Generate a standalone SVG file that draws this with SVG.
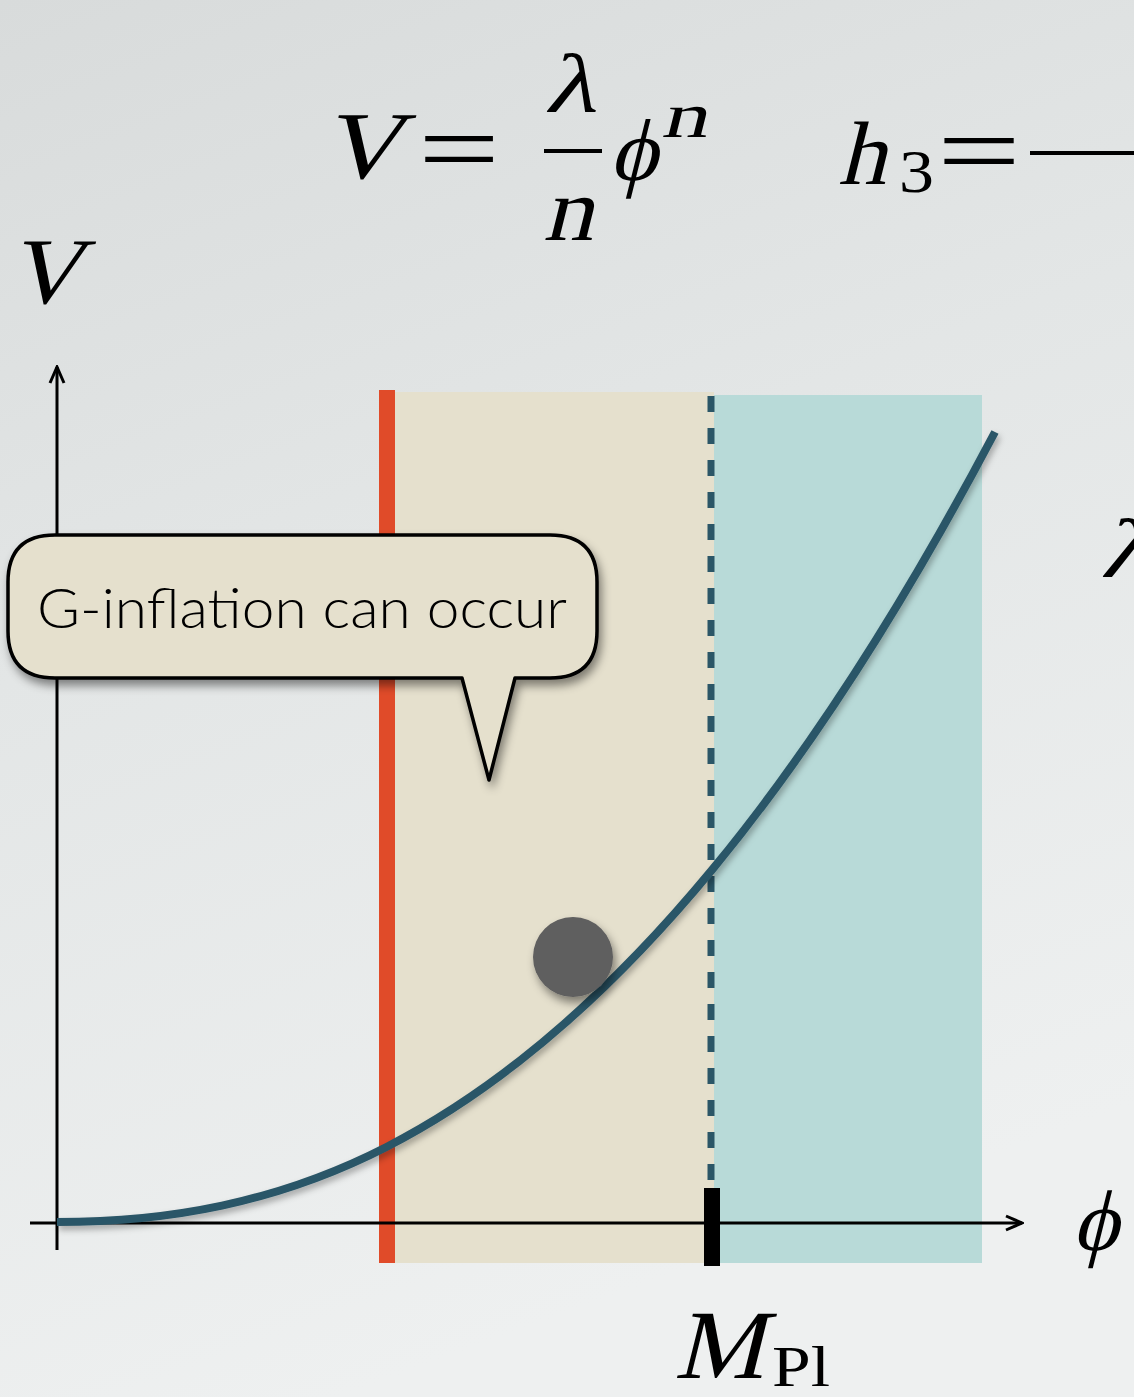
<svg xmlns="http://www.w3.org/2000/svg" width="1134" height="1397" viewBox="0 0 1134 1397">
<defs>
<linearGradient id="bg" x1="0" y1="0" x2="0.3" y2="1">
<stop offset="0" stop-color="#d8dbdb"/>
<stop offset="0.45" stop-color="#e3e6e6"/>
<stop offset="1" stop-color="#eef0f0"/>
</linearGradient>
<filter id="sh" x="-20%" y="-20%" width="140%" height="140%">
<feDropShadow dx="3" dy="6" stdDeviation="5" flood-color="#000" flood-opacity="0.45"/>
</filter>
<filter id="sh2" x="-5%" y="-5%" width="110%" height="110%">
<feDropShadow dx="2" dy="4" stdDeviation="3" flood-color="#000" flood-opacity="0.3"/>
</filter>
<marker id="arr" viewBox="0 0 20 20" refX="18" refY="10" markerWidth="20" markerHeight="20" markerUnits="userSpaceOnUse" orient="auto">
<path d="M2,3 L18,10 L2,17" fill="none" stroke="#000" stroke-width="3"/>
</marker>
</defs>
<style>
.it{font-family:"Liberation Serif",serif;fill:#000}
.rm{font-family:"Liberation Serif",serif;fill:#000}
.lbl{font-family:"Lato","Open Sans",sans-serif;font-weight:300;fill:#000}
.axis{stroke:#000;stroke-width:3;fill:none}
</style>
<rect width="1134" height="1397" fill="url(#bg)"/>

<g id="formula">
<text class="it" transform="translate(322,178) skewX(-14)" font-size="96" textLength="80" lengthAdjust="spacingAndGlyphs">V</text>
<text class="rm" x="418" y="184" font-size="104" textLength="82" lengthAdjust="spacingAndGlyphs">=</text>
<text class="it" transform="translate(544,112) skewX(-14)" font-size="84" textLength="52" lengthAdjust="spacingAndGlyphs">λ</text>
<rect x="544" y="149" width="58" height="4" fill="#000"/>
<text class="it" transform="translate(543,240) skewX(-14)" font-size="90" textLength="50" lengthAdjust="spacingAndGlyphs">n</text>
<text class="it" transform="translate(609,180) skewX(-14)" font-size="88" textLength="48" lengthAdjust="spacingAndGlyphs">ϕ</text>
<text class="it" transform="translate(661,137) skewX(-14)" font-size="64" textLength="46" lengthAdjust="spacingAndGlyphs">n</text>
<text class="it" transform="translate(838,184) skewX(-14)" font-size="90" textLength="48" lengthAdjust="spacingAndGlyphs">h</text>
<text class="rm" x="899" y="192" font-size="62" textLength="35" lengthAdjust="spacingAndGlyphs">3</text>
<text class="rm" x="937" y="186" font-size="104" textLength="84" lengthAdjust="spacingAndGlyphs">=</text>
<rect x="1030" y="151" width="104" height="4" fill="#000"/>
<text class="it" transform="translate(1100,577) skewX(-14)" font-size="84" textLength="52" lengthAdjust="spacingAndGlyphs">λ</text>
</g>

<g id="regions">
<rect id="beige" x="387" y="392" width="327" height="871" fill="#e5e0cd"/>
<rect id="teal" x="714" y="395" width="268" height="868" fill="#b8dad8"/>
<rect id="red-line" x="379" y="390" width="16" height="873" fill="#e04b29"/>
<line id="dashed" x1="711" y1="396" x2="711" y2="1190" stroke="#2b5667" stroke-width="7" stroke-dasharray="16,16"/>
</g>

<g id="connectors">
<line class="axis" x1="30" y1="1223" x2="1022" y2="1223" marker-end="url(#arr)"/>
<line class="axis" x1="57" y1="1250" x2="57" y2="367" marker-end="url(#arr)"/>
<rect id="tick" x="704" y="1188" width="16" height="78" fill="#000"/>
</g>

<g id="curve" filter="url(#sh2)">
<path d="M57,1222 C167,1222 277,1203.2 387,1146.7 C495.3,1091.1 603.7,1000.9 712,869.9 C806.3,755.8 900.7,610.8 995,432" fill="none" stroke="#2b5667" stroke-width="8"/>
</g>

<g id="ball">
<circle cx="573" cy="957" r="40" fill="#5e5e5e" filter="url(#sh)"/>
</g>

<g id="bubble">
<path d="M55,535 H550 Q597,535 597,582 V631 Q597,678 550,678 H515 L489,780 L462,678 H55 Q8,678 8,631 V582 Q8,535 55,535 Z" fill="#e5e0cd" stroke="#000" stroke-width="3.5" stroke-linejoin="round" filter="url(#sh)"/>
<text class="lbl" x="37" y="628" font-size="56" textLength="530" lengthAdjust="spacingAndGlyphs">G-inflation can occur</text>
</g>

<g id="labels">
<text class="it" transform="translate(8,303) skewX(-14)" font-size="94" textLength="74" lengthAdjust="spacingAndGlyphs">V</text>
<text class="it" transform="translate(1072,1250) skewX(-14)" font-size="86" textLength="46" lengthAdjust="spacingAndGlyphs">ϕ</text>
<text class="it" transform="translate(674,1378) skewX(-14)" font-size="98" textLength="90" lengthAdjust="spacingAndGlyphs">M</text>
<text class="rm" x="772" y="1386" font-size="58" textLength="58" lengthAdjust="spacingAndGlyphs">Pl</text>
</g>
</svg>
